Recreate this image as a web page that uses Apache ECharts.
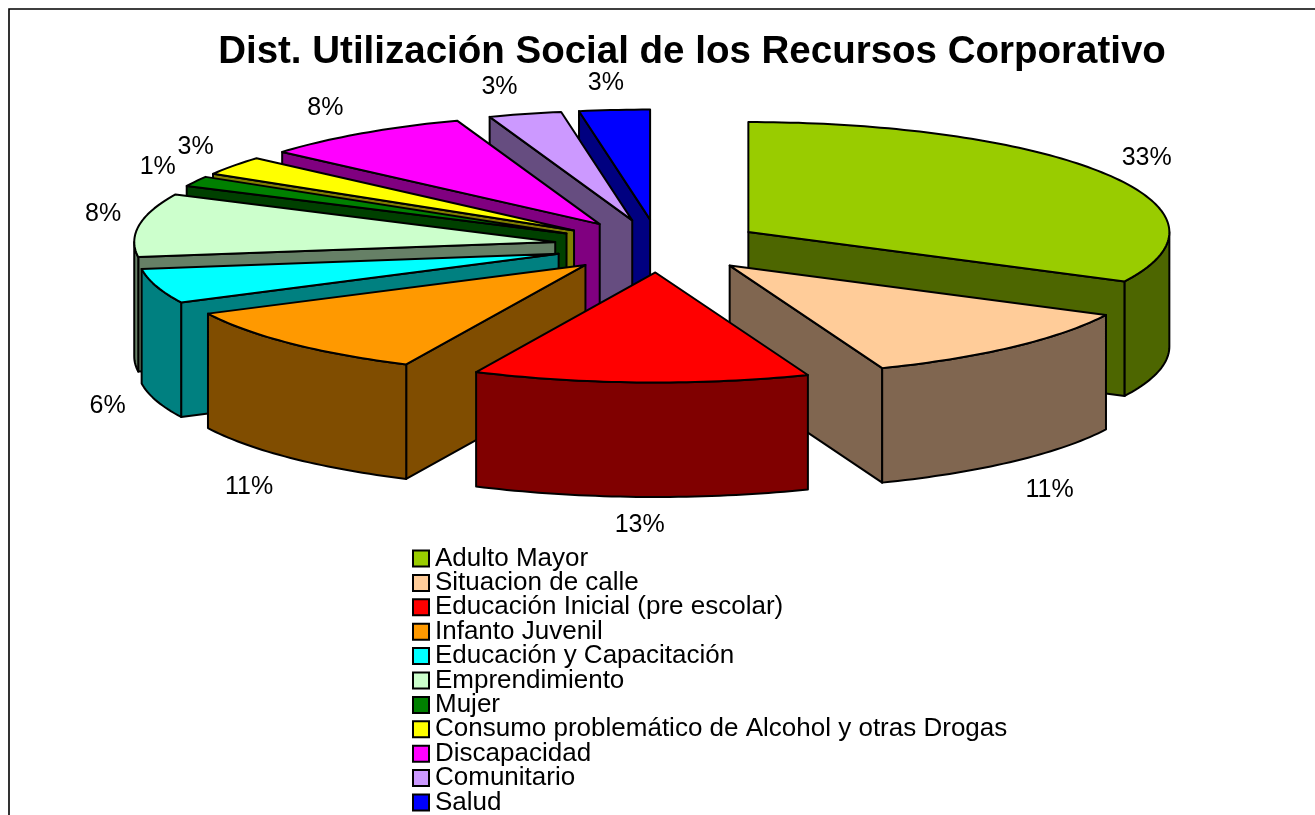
<!DOCTYPE html>
<html>
<head>
<meta charset="utf-8">
<style>
  html, body { margin: 0; padding: 0; background: #fff; }
  #chart { width: 1315px; height: 815px; }
</style>
</head>
<body>
<div id="chart"></div>
<script src="https://cdn.jsdelivr.net/npm/echarts@6/dist/echarts.min.js"></script>
<script>
const categories = ['Adulto Mayor', 'Situacion de calle', 'Educación Inicial (pre escolar)', 'Infanto Juvenil', 'Educación y Capacitación', 'Emprendimiento', 'Mujer', 'Consumo problemático de Alcohol y otras Drogas', 'Discapacidad', 'Comunitario', 'Salud']
// sweep of each slice
const shares = [32.4, 11.7, 12.9, 10.7, 5.1, 9.3, 1.5, 2.8, 8.1, 2.8, 2.7]
// printed labels, the drawing and its labels do not agree exactly
const percentLabels = ['33%', '11%', '13%', '11%', '6%', '8%', '1%', '3%', '8%', '3%', '3%']
const topColors = ['#99cc00', '#ffcc99', '#ff0000', '#ff9900', '#00ffff', '#ccffcc', '#008000', '#ffff00', '#ff00ff', '#cc99ff', '#0000ff']
const sideColors = ['#4d6600', '#806650', '#800000', '#804d00', '#008080', '#668066', '#004000', '#808000', '#800080', '#664d80', '#000080']

const font = '"Liberation Sans", Arial, sans-serif'
const pie = { cx: 659, cy: 246, rx: 421, ry: 110, explodeX: 105, explodeY: 26.5, depth: 114.5 }
// small hand corrections for the percent labels, px
const labelNudge = [[15, -3], [0, 10], [1, 3], [-4, 11], [-11, -2], [-7, -7], [-12, -2], [-14, -4], [-20, -4], [-18, -2], [-6, -2]]
const total = shares.reduce((a, b) => a + b, 0)

const toRad = share => share / total * Math.PI * 2
const polar = (center, angle) => [center[0] + pie.rx * Math.sin(angle), center[1] - pie.ry * Math.cos(angle)]
const down = p => [p[0], p[1] + pie.depth]

// angles run clockwise from 12 o'clock
const starts = shares.map((s, i) => toRad(shares.slice(0, i).reduce((a, b) => a + b, 0)))

const arcPoints = (center, from, to) => {
  const steps = Math.max(2, Math.ceil((to - from) / 0.02))
  const pts = []
  for (let i = 0; i <= steps; i++) pts.push(polar(center, from + (to - from) * i / steps))
  return pts
}

const renderSlice = index => (params, api) => {
  const from = starts[index]
  const to = from + toRad(api.value(0))
  const mid = (from + to) / 2
  const apex = [pie.cx + pie.explodeX * Math.sin(mid), pie.cy - pie.explodeY * Math.cos(mid)]
  const side = sideColors[index]
  const stroke = { stroke: '#000', lineWidth: 2, lineJoin: 'round' }
  const children = []
  const addWall = (points, fill) => children.push({ type: 'polygon', shape: { points }, style: { fill, ...stroke } })

  // cut faces only show when they turn towards the viewer
  if (Math.sin(from) < 0) {
    const r = polar(apex, from)
    addWall([apex, r, down(r), down(apex)], side)
  }
  if (Math.sin(to) > 0) {
    const r = polar(apex, to)
    addWall([apex, r, down(r), down(apex)], side)
  }
  // outer wall, front half of the ellipse only
  const wallFrom = Math.max(from, Math.PI / 2)
  const wallTo = Math.min(to, Math.PI * 1.5)
  if (wallTo > wallFrom) {
    const arc = arcPoints(apex, wallFrom, wallTo)
    addWall(arc.concat(arc.map(down).reverse()), side)
  }
  children.push({ type: 'polygon', shape: { points: [apex].concat(arcPoints(apex, from, to)) }, style: { fill: topColors[index], ...stroke } })

  // label sits outside the rim, below the wall for the front slices
  const front = Math.max(0, -Math.cos(mid))
  const labelX = apex[0] + pie.rx * (1.07 + 0.08 * front) * Math.sin(mid) + labelNudge[index][0]
  let labelY = apex[1] - pie.ry * 1.23 * Math.cos(mid) + labelNudge[index][1]
  if (front > 0) labelY += pie.depth
  children.push({
    type: 'text',
    style: { x: labelX, y: labelY, text: percentLabels[index], fill: '#000', font: '25px ' + font, textAlign: 'center', textVerticalAlign: 'middle' }
  })
  return { type: 'group', children }
}

const option = {
  animation: false,
  backgroundColor: '#fff',
  title: {
    text: 'Dist. Utilización Social de los Recursos Corporativo',
    left: 687,
    top: 28,
    textAlign: 'center',
    textStyle: { fontFamily: font, fontSize: 38.5, fontWeight: 'bold', color: '#000' }
  },
  legend: {
    orient: 'vertical',
    left: 412,
    top: 543.5,
    height: 400,
    padding: 0,
    itemWidth: 16,
    itemHeight: 16,
    itemGap: -5.6,
    selectedMode: false,
    icon: 'rect',
    itemStyle: { borderColor: '#000', borderWidth: 2 },
    textStyle: { fontFamily: font, fontSize: 26, lineHeight: 18, color: '#000', padding: [0, 0, 12, 1] },
    data: categories
  },
  graphic: [{
    type: 'polyline',
    silent: true,
    shape: { points: [[9, 815], [9, 9], [1315, 9]] },
    style: { stroke: '#000', lineWidth: 1.6, fill: null }
  }],
  series: categories.map((name, i) => ({
    type: 'custom',
    name,
    coordinateSystem: 'none',
    // back slices first, the front ones paint over them
    z: 10 - Math.cos(starts[i] + toRad(shares[i]) / 2),
    itemStyle: { color: topColors[i] },
    renderItem: renderSlice(i),
    data: [[shares[i]]]
  }))
}

const chart = echarts.init(document.getElementById('chart'))
chart.setOption(option)
</script>
</body>
</html>
